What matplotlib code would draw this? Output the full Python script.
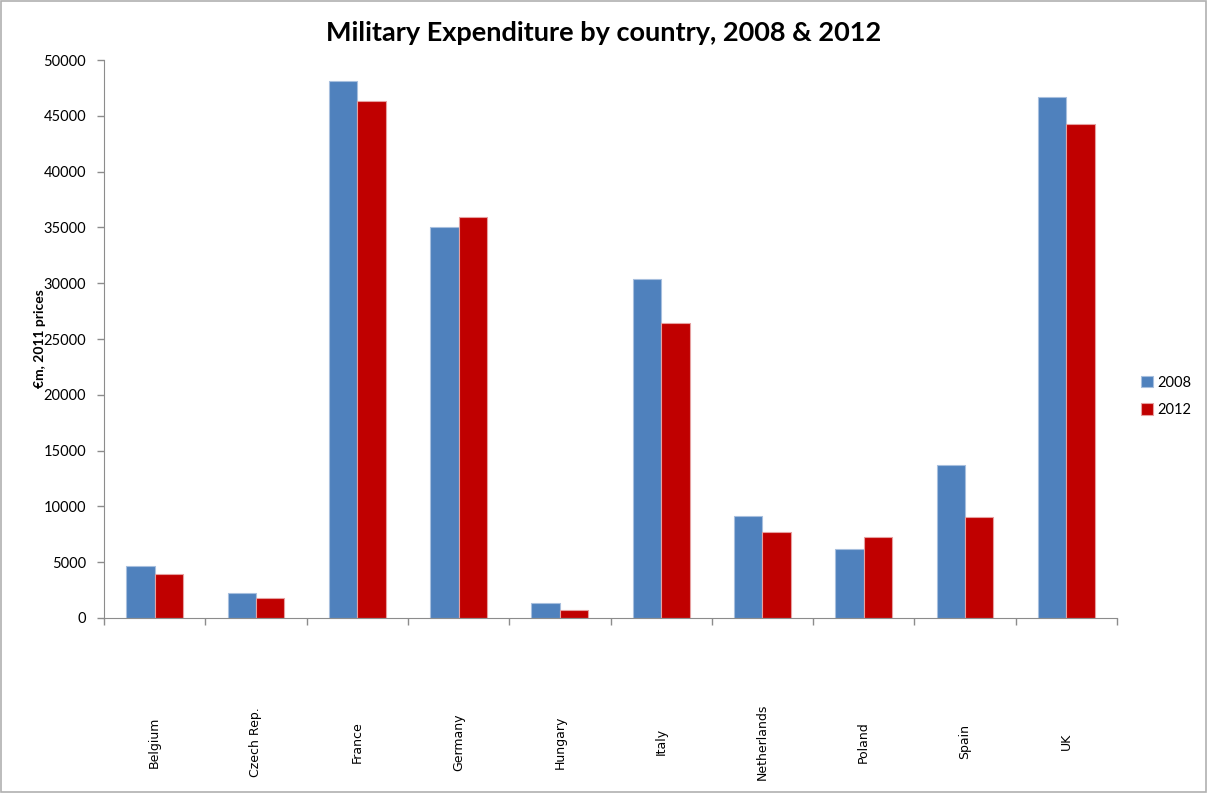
import numpy as np
import matplotlib
matplotlib.use("Agg")
import matplotlib.pyplot as plt
from matplotlib.patches import Rectangle
from matplotlib.transforms import blended_transform_factory

plt.rcParams['font.family'] = ['Lato', 'DejaVu Sans']

# data (EUR m, 2011 prices)
countries = ['Belgium', 'Czech Rep.', 'France', 'Germany', 'Hungary',
             'Italy', 'Netherlands', 'Poland', 'Spain', 'UK']
exp_2008 = [4650, 2200, 48100, 35050, 1300, 30400, 9150, 6200, 13700, 46700]
exp_2012 = [3950, 1750, 46350, 35950, 750, 26400, 7750, 7300, 9050, 44300]
years = ['2008', '2012']
yticks = np.arange(0, 50001, 5000)

blue = '#4f81bd'
red = '#c00000'

fig = plt.figure(figsize=(12.07, 7.93), dpi=100)
ax = fig.add_axes([0.0862, 0.2207, 0.8392, 0.7036])

x = np.arange(len(countries))
w = 0.28
b1 = ax.bar(x - w / 2, exp_2008, w, color=blue, edgecolor='#a7bfde',
            linewidth=0.8, label=years[0])
b2 = ax.bar(x + w / 2, exp_2012, w, color=red, edgecolor='#e6a0a0',
            linewidth=0.8, label=years[1])

ax.set_xlim(-0.5, len(countries) - 0.5)
ax.set_ylim(0, 50000)
ax.set_yticks(yticks)
ax.set_yticklabels([str(v) for v in yticks], fontsize=10.5)

# ticks between categories, labels drawn as text further down
ax.set_xticks(np.arange(-0.5, len(countries), 1.0))
ax.set_xticklabels([])
trans = blended_transform_factory(ax.transData, ax.transAxes)
for i, c in enumerate(countries):
    ax.text(i, -0.222, c, transform=trans, rotation=90, ha='center',
            va='center', fontsize=9, family='DejaVu Sans')

for s in ['top', 'right']:
    ax.spines[s].set_visible(False)
for s in ['left', 'bottom']:
    ax.spines[s].set_color('#8c8c8c')
ax.tick_params(axis='both', color='#8c8c8c', length=5, width=1)
ax.tick_params(axis='y', pad=8)

ax.set_ylabel('€m, 2011 prices', fontsize=10, fontweight='bold', labelpad=-2)

fig.text(0.5, 0.958, 'Military Expenditure by country, 2008 & 2012',
         ha='center', va='center', fontsize=19.5, fontweight='bold')

fig.legend(handles=[b1, b2], loc='center', bbox_to_anchor=(0.966, 0.5),
           frameon=False, fontsize=10.5, handlelength=0.8, handleheight=0.8,
           handletextpad=0.3, labelspacing=0.9)

# outer chart border
fig.patches.append(Rectangle((0.001, 0.001), 0.998, 0.998, transform=fig.transFigure,
                             fill=False, edgecolor='#b0b0b0', linewidth=1.2))

fig.savefig('out.png', dpi=100)
